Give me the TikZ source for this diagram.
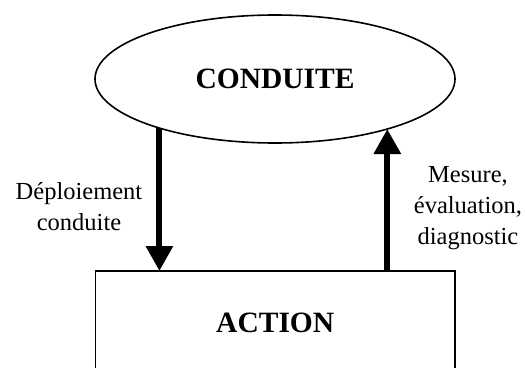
\documentclass[tikz,border=0pt]{standalone}
\usepackage{fontspec}
\setmainfont{Liberation Serif}
\usetikzlibrary{shapes.geometric,arrows.meta}
\begin{document}
\begin{tikzpicture}[x=1pt,y=-1pt,
  shapeline/.style={draw=black,line width=1.6pt,inner sep=0pt,outer sep=0pt},
  flow/.style={line width=6pt,-{Triangle[length=25pt,width=26pt]}},
  title/.style={font=\fontsize{29.5}{34}\selectfont\bfseries},
  lab/.style={font=\fontsize{24.5}{31}\selectfont,align=center,anchor=base}]
\useasboundingbox (0,0) rectangle (525,367);
\clip (0,0) rectangle (525,367);
\node[shapeline,ellipse,minimum width=360pt,minimum height=128pt,title] (conduite) at (275,79) {CONDUITE};
\node[shapeline,rectangle,minimum width=359.5pt,minimum height=104pt,title] (action) at (275.25,323) {ACTION};
\coordinate (lt) at (conduite.203.2);
\draw[flow] (lt) -- (lt |- action.north);
\coordinate (rt) at (conduite.336.6);
\draw[flow] (rt |- action.north) -- (rt);
\node[lab] (deploy) at (79,230) {Déploiement\\conduite};
\node[lab] (mesure) at (468,244) {Mesure,\\évaluation,\\diagnostic};
\end{tikzpicture}
\end{document}
